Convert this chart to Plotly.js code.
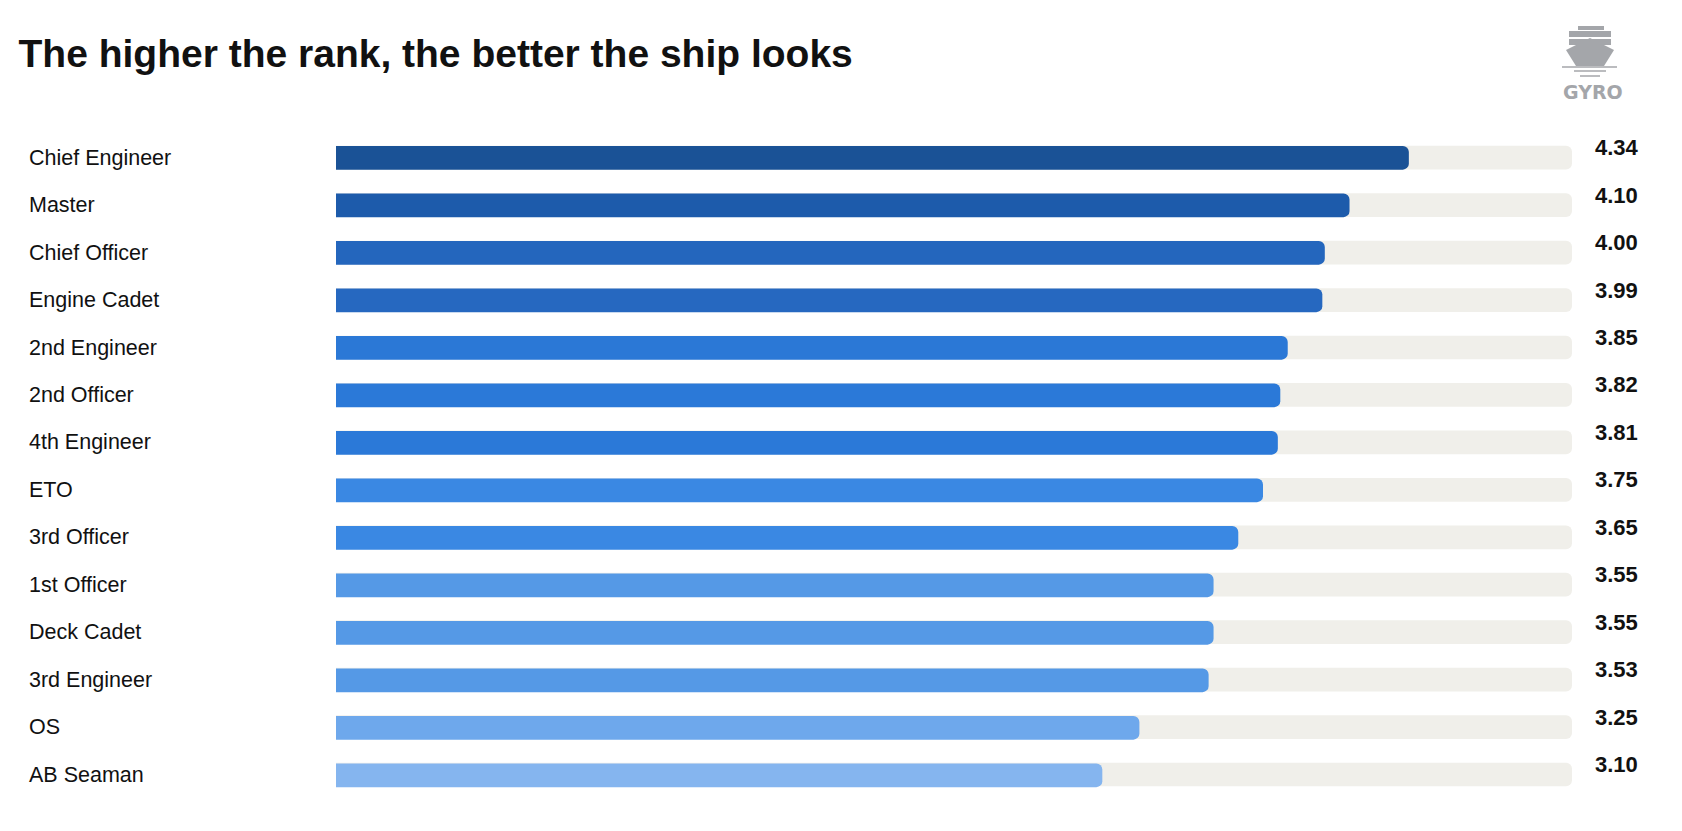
<!DOCTYPE html>
<html>
<head>
<meta charset="utf-8">
<script src="https://cdn.plot.ly/plotly-3.0.1.min.js"></script>
<style>body{margin:0;background:#fff}#chart{width:1682px;height:831px}</style>
</head>
<body>
<div id="chart"></div>
<script>
var ranks = ['Chief Engineer','Master','Chief Officer','Engine Cadet','2nd Engineer','2nd Officer','4th Engineer','ETO','3rd Officer','1st Officer','Deck Cadet','3rd Engineer','OS','AB Seaman'];
var scores = [4.34,4.10,4.00,3.99,3.85,3.82,3.81,3.75,3.65,3.55,3.55,3.53,3.25,3.10];
var barColors = ['#1a5296','#1d5bab','#2466bd','#2668c0','#2b78d6','#2b79d8','#2b79d8','#3a88e3','#3a88e3','#5599e6','#5599e6','#5599e6','#6ea8ec','#85b5ef'];
var maxScore = 5;

var track = {
  type: 'bar', orientation: 'h', y: ranks, x: ranks.map(function(){ return maxScore; }),
  marker: {color: '#f0efea', cornerradius: 6}, width: 0.5, hoverinfo: 'skip'
};
// blue bars on their own overlaying axis so their tips get rounded too
var bars = {
  type: 'bar', orientation: 'h', y: ranks, x: scores, xaxis: 'x2', yaxis: 'y2',
  marker: {color: barColors, cornerradius: 6}, width: 0.5
};

var annotations = [];
ranks.forEach(function(r, i){
  annotations.push({xref:'paper', yref:'y', x:0.016, y:r, xanchor:'left', showarrow:false,
    text:r, font:{family:'Liberation Sans, Arial', size:21.5, color:'#111'}});
  annotations.push({xref:'paper', yref:'y', x:0.9613, y:r, xanchor:'center', showarrow:false,
    text:scores[i].toFixed(2), font:{family:'Liberation Sans, Arial', size:22, color:'#111', weight:'bold'}, yshift:10});
});
annotations.push({xref:'paper', yref:'paper', x:0.947, y:1-92/831, xanchor:'center', yanchor:'middle', showarrow:false,
  text:'<b>GYRO</b>', font:{family:'DejaVu Sans', size:19, color:'#a4a6aa'}});

var g = '#a4a6aa';
function px(x){ return x/1682; } function py(y){ return 1-y/831; }
var shapes = [
  {type:'rect', xref:'paper', yref:'paper', x0:px(1578), x1:px(1604), y0:py(30), y1:py(26), fillcolor:g, line:{width:0}},
  {type:'rect', xref:'paper', yref:'paper', x0:px(1569), x1:px(1611), y0:py(37), y1:py(31), fillcolor:g, line:{width:0}},
  {type:'rect', xref:'paper', yref:'paper', x0:px(1569), x1:px(1611), y0:py(45), y1:py(39), fillcolor:g, line:{width:0}},
  {type:'path', xref:'paper', yref:'paper', path:'M '+px(1566)+' '+py(50)+' L '+px(1590)+' '+py(38)+' L '+px(1614)+' '+py(50)+' L '+px(1604)+' '+py(66)+' L '+px(1576)+' '+py(66)+' Z', fillcolor:g, line:{width:0}},
  {type:'line', xref:'paper', yref:'paper', x0:px(1562), x1:px(1617), y0:py(67), y1:py(67), line:{color:g, width:1.5}},
  {type:'line', xref:'paper', yref:'paper', x0:px(1574), x1:px(1606), y0:py(71), y1:py(71), line:{color:g, width:1.5}},
  {type:'line', xref:'paper', yref:'paper', x0:px(1580), x1:px(1600), y0:py(76), y1:py(76), line:{color:g, width:1.5}}
];

var xdom = [336/1682, 1572/1682], ydom = [1-799/831, 1-134/831];
var layout = {
  width: 1682, height: 831,
  margin: {l:0, r:0, t:0, b:0},
  paper_bgcolor: '#fff', plot_bgcolor: 'rgba(0,0,0,0)',
  barmode: 'overlay', showlegend: false,
  title: {text:'<b>The higher the rank, the better the ship looks</b>', x:0.011, xanchor:'left', y:1-53/831, yanchor:'middle',
    font:{family:'Liberation Sans, Arial', size:39, color:'#111'}},
  xaxis: {domain:xdom, range:[0, maxScore], showgrid:false, zeroline:false, showticklabels:false, fixedrange:true},
  yaxis: {domain:ydom, autorange:'reversed', showticklabels:false, showgrid:false, zeroline:false},
  xaxis2: {overlaying:'x', anchor:'y2', range:[0, maxScore], showgrid:false, zeroline:false, showticklabels:false, fixedrange:true},
  yaxis2: {overlaying:'y', anchor:'x2', autorange:'reversed', showticklabels:false, showgrid:false, zeroline:false},
  annotations: annotations, shapes: shapes
};

Plotly.newPlot('chart', [track, bars], layout, {displayModeBar:false});
</script>
</body>
</html>
